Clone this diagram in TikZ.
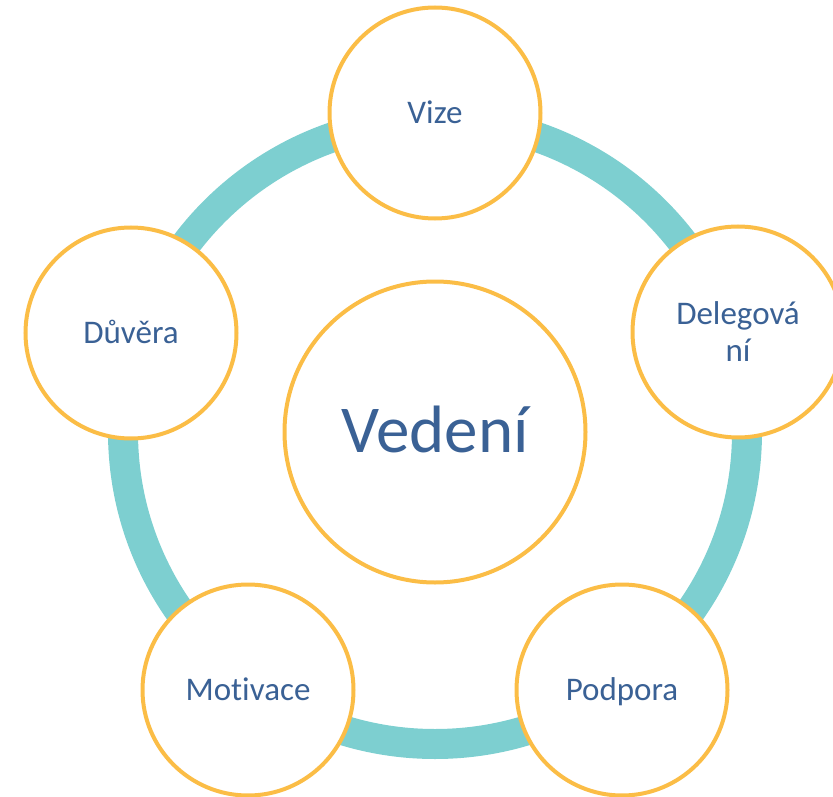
\documentclass[tikz,border=0pt]{standalone}
\usepackage{fontspec}
\setmainfont{Carlito}[Ligatures=NoCommon]
\definecolor{ringteal}{HTML}{7DCFD0}
\definecolor{bubbleorange}{HTML}{FBBD46}
\definecolor{labelblue}{HTML}{3A6195}
\tikzset{
  bubblebase/.style={circle, draw=bubbleorange, line width=4pt, fill=white, inner sep=0pt,
    minimum size=211pt, text=labelblue, align=center, font=\fontsize{33}{37}\selectfont},
  bubble/.style={bubblebase, text height=21pt, text depth=0pt},
  hub/.style={circle, draw=bubbleorange, line width=4pt, fill=white, inner sep=0pt,
    minimum size=301pt, text=labelblue, font=\fontsize{67}{70}\selectfont,
    text height=41pt, text depth=0pt},
  ringline/.style={draw=ringteal, line width=30pt}
}
\begin{document}
\begin{tikzpicture}[x=1pt,y=-1pt]
\useasboundingbox (0,0) rectangle (833,797);
\coordinate (mid) at (435,432);
\draw[ringline] (mid) circle[radius=312];
\node[hub] (hubnode) at (mid) {Vedení};
\node[bubble] (vize) at (435,113) {Vize};
\node[bubblebase] (deleg) at (738,332) {Delegová\\ní};
\node[bubble] (podpora) at (622,690) {Podpora};
\node[bubble] (motivace) at (248,690) {Motivace};
\node[bubble] (duvera) at (131,333) {Důvěra};
\end{tikzpicture}
\end{document}
